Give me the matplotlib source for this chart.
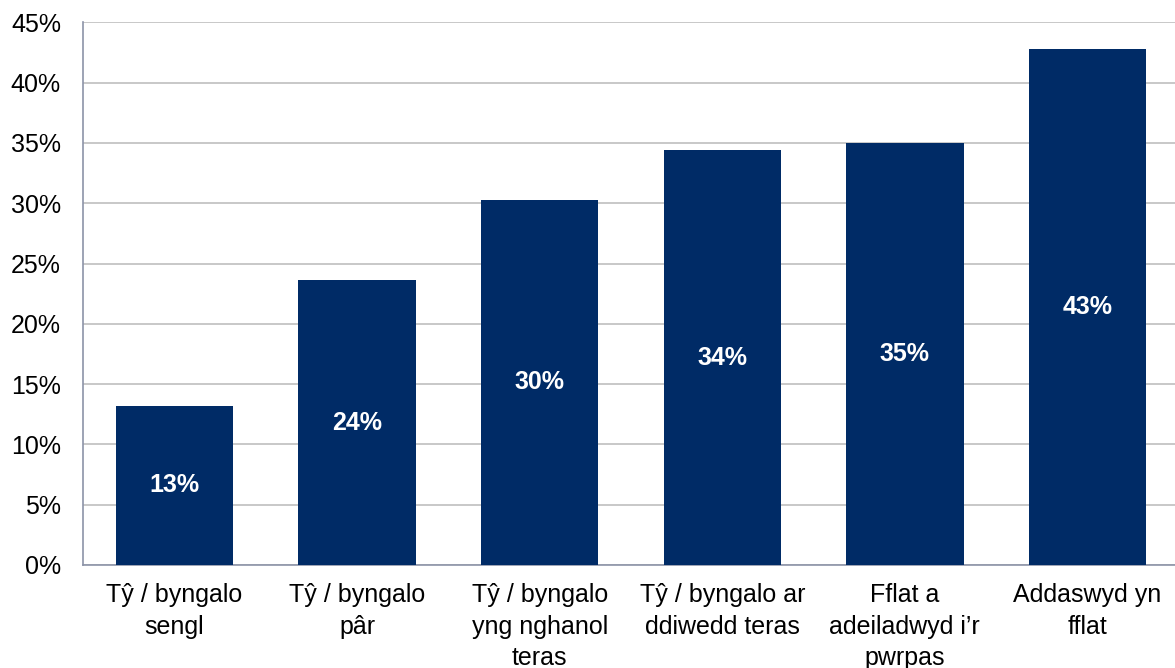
import matplotlib.pyplot as plt
from matplotlib.ticker import FuncFormatter

plt.rcParams['font.family'] = ['Liberation Sans', 'DejaVu Sans']

# Share of households by dwelling type
categories = ["Tŷ / byngalo\nsengl", "Tŷ / byngalo\npâr", "Tŷ / byngalo\nyng nghanol\nteras",
              "Tŷ / byngalo ar\nddiwedd teras", "Fflat a\nadeiladwyd i’r\npwrpas",
              "Addaswyd yn\nfflat"]
values = [13.2, 23.6, 30.3, 34.4, 35.0, 42.8]
labels = ["13%", "24%", "30%", "34%", "35%", "43%"]

fig = plt.figure(figsize=(11.75, 6.68), dpi=100)
ax = fig.add_axes([0.0708, 0.1542, 0.9324, 0.8123])

x = range(len(categories))
bars = ax.bar(x, values, width=0.643, color="#002B66", zorder=3)

for b, lab in zip(bars, labels):
    ax.text(b.get_x() + b.get_width() / 2, b.get_height() / 2, lab,
            ha="center", va="center", color="white", fontsize=18, fontweight="bold", zorder=4)

ax.set_xlim(-0.5, len(categories) - 0.5)
ax.set_ylim(0, 45)
ax.set_yticks(range(0, 46, 5))
ax.yaxis.set_major_formatter(FuncFormatter(lambda v, p: f"{v:.0f}%"))
ax.set_xticks(list(x))
ax.set_xticklabels(categories, fontsize=18, linespacing=1.4)
ax.tick_params(axis="y", length=0, pad=16, labelsize=18)
ax.tick_params(axis="x", length=0, pad=13)

ax.grid(axis="y", color="#BFBFBF", linewidth=1.2, zorder=0)
for s in ["top", "right"]:
    ax.spines[s].set_visible(False)
ax.spines["left"].set_color("#8C93A8")
ax.spines["bottom"].set_color("#8C93A8")
ax.spines["left"].set_linewidth(1.2)
ax.spines["bottom"].set_linewidth(1.2)

fig.savefig("out.png", dpi=100)
